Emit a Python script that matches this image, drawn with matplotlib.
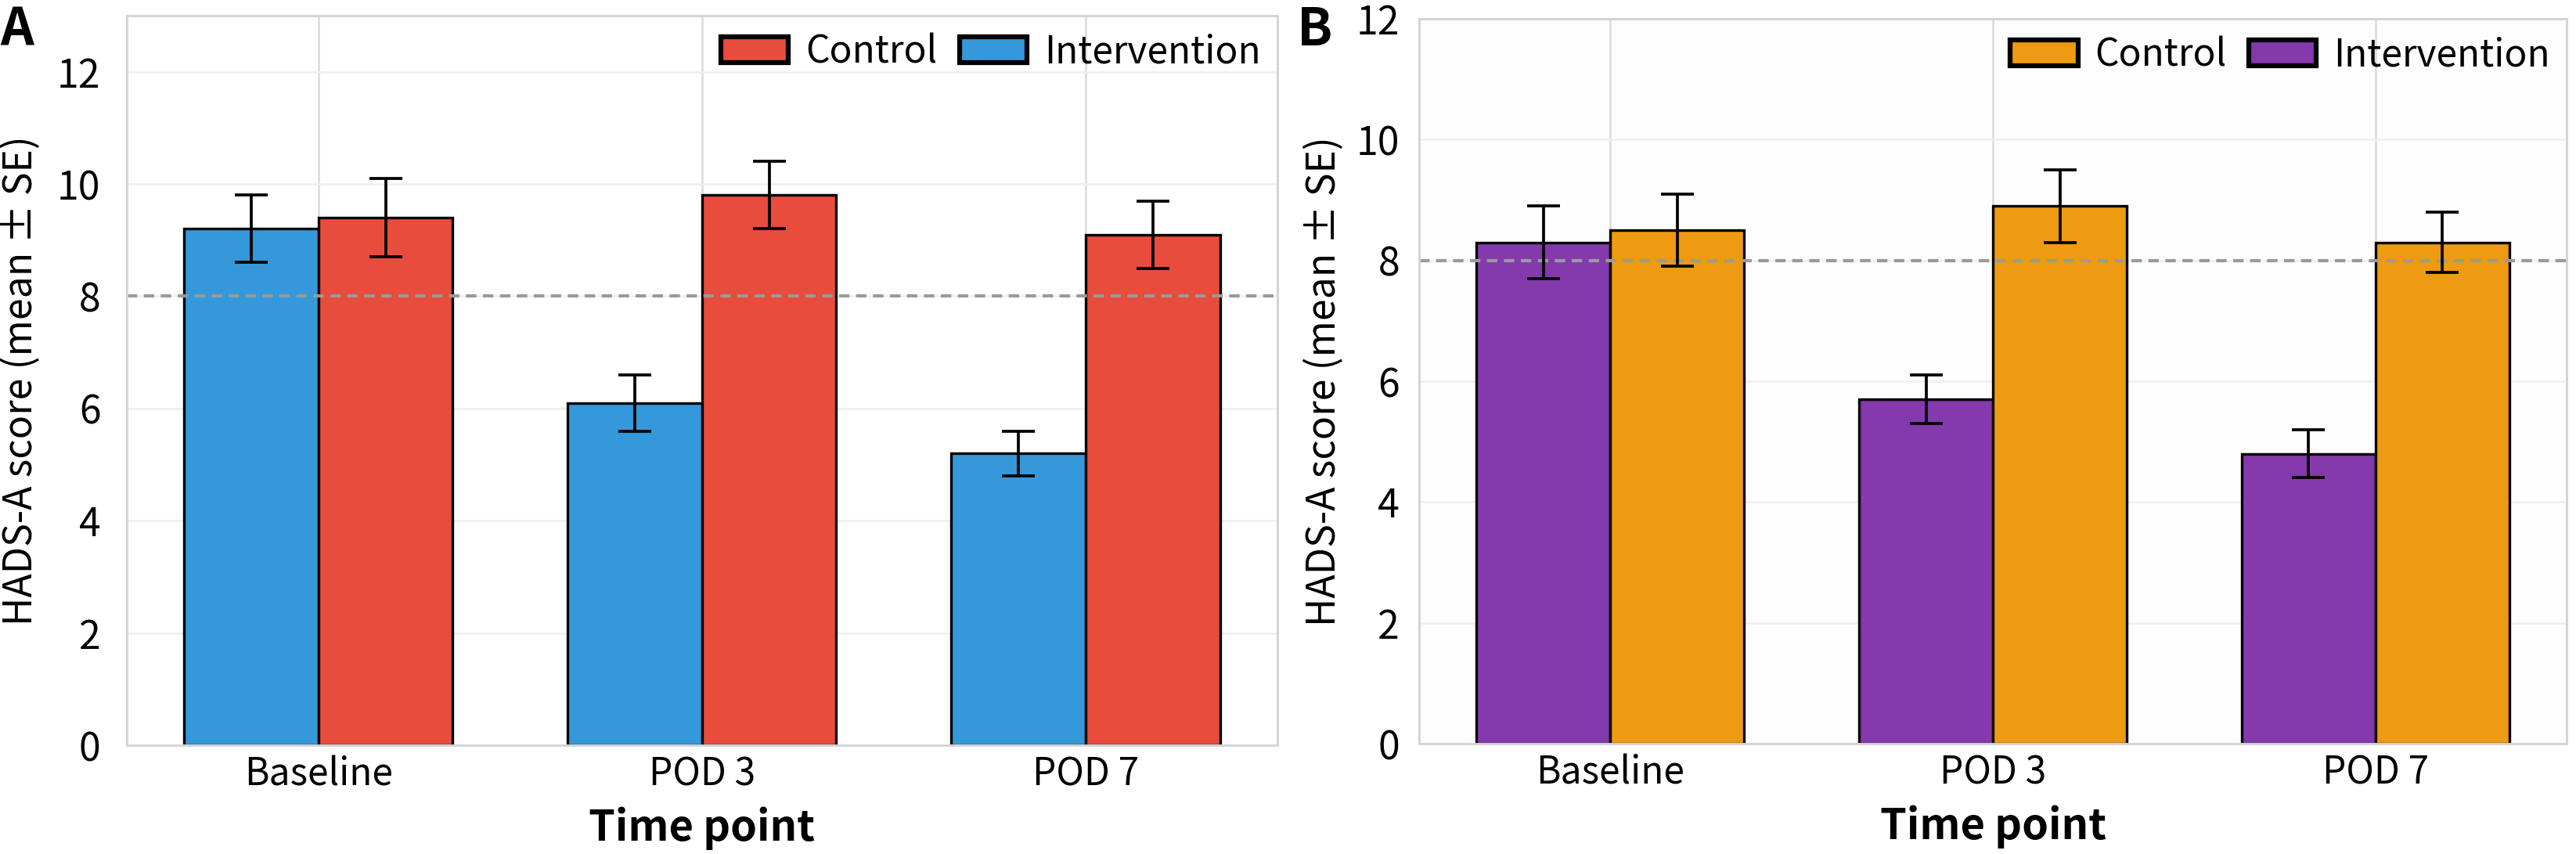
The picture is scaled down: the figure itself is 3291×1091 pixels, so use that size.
import matplotlib
matplotlib.use("Agg")
import matplotlib.pyplot as plt
import numpy as np

# values
time_points = ["Baseline", "POD 3", "POD 7"]

a_intervention = [9.2, 6.1, 5.2]
a_intervention_se = [0.6, 0.5, 0.4]
a_control = [9.4, 9.8, 9.1]
a_control_se = [0.7, 0.6, 0.6]

b_intervention = [8.3, 5.7, 4.8]
b_intervention_se = [0.6, 0.4, 0.4]
b_control = [8.5, 8.9, 8.3]
b_control_se = [0.6, 0.6, 0.5]

cutoff = 8

plt.rcParams["font.family"] = ["Noto Sans CJK SC", "DejaVu Sans"]


def panel(ax, interv, interv_se, ctrl, ctrl_se, c_int, c_ctrl, ylim, bg, label_x, ypad):
    x = np.arange(len(time_points))
    w = 0.35
    ax.set_facecolor(bg)
    ax.set_axisbelow(True)
    ax.grid(True, axis="x", color="#dadada", linewidth=0.6)
    ax.grid(True, axis="y", color="#efefef", linewidth=0.6)
    ekw = {"elinewidth": 0.9, "capthick": 0.9, "ecolor": "black"}
    ax.bar(x - w / 2, interv, w, yerr=interv_se, color=c_int, edgecolor="black",
           linewidth=0.8, capsize=5, error_kw=ekw, label="Intervention")
    ax.bar(x + w / 2, ctrl, w, yerr=ctrl_se, color=c_ctrl, edgecolor="black",
           linewidth=0.8, capsize=5, error_kw=ekw, label="Control")
    ax.axhline(cutoff, color="#9a9a9a", linestyle="--", linewidth=1.0,
               dashes=(3.2, 2.0), zorder=1.5)
    ax.set_xticks(x)
    ax.set_xticklabels(time_points, fontsize=11.5)
    ax.set_xlim(-0.5, 2.5)
    ax.set_ylim(*ylim)
    ax.set_yticks(np.arange(0, 13, 2))
    ax.tick_params(axis="y", labelsize=12, length=0, pad=ypad)
    ax.tick_params(axis="x", length=0, pad=3)
    for s in ax.spines.values():
        s.set_color("#d4d4d4")
        s.set_linewidth(0.7)
    ax.set_xlabel("Time point", fontsize=13, fontweight="bold", labelpad=4)
    ax.set_ylabel("HADS-A score (mean \u00b1 SE)", fontsize=12)
    ax.yaxis.set_label_coords(label_x, 0.5)
    h, l = ax.get_legend_handles_labels()
    leg = ax.legend(h[::-1], l[::-1], loc="upper right", ncol=2, frameon=False,
                    fontsize=11.5, handlelength=1.8, handleheight=0.68,
                    columnspacing=0.6, handletextpad=0.45,
                    borderaxespad=0.25, borderpad=0.2)
    for p in leg.get_patches():
        p.set_linewidth(1.5)


fig = plt.figure(figsize=(10.97, 3.6367), dpi=300)
ax1 = fig.add_axes([0.0492, 0.1274, 0.4467, 0.8543])
ax2 = fig.add_axes([0.5509, 0.1292, 0.4455, 0.8488])

panel(ax1, a_intervention, a_intervention_se, a_control, a_control_se,
      "#3498db", "#e74c3c", (0, 13), "white", -0.075, 8)
panel(ax2, b_intervention, b_intervention_se, b_control, b_control_se,
      "#8439ad", "#ee9a13", (0, 12), "#fdfdfd", -0.0655, 6)

fig.text(0.0, 0.995, "A", fontsize=16, fontweight="bold", va="top", ha="left")
fig.text(0.5035, 0.995, "B", fontsize=16, fontweight="bold", va="top", ha="left")

fig.savefig("out.png", dpi=300, facecolor="white")
